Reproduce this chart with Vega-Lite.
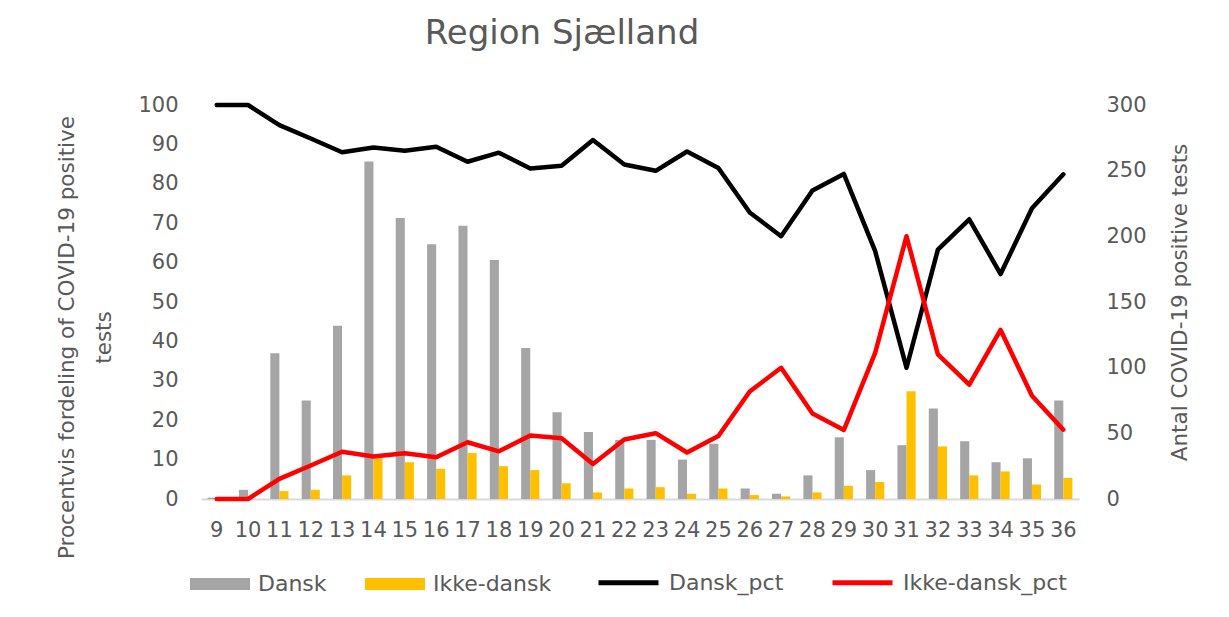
{
  "$schema": "https://vega.github.io/schema/vega-lite/v6.json",
  "width": 878,
  "height": 394,
  "autosize": {"type": "none"},
  "padding": {"left": 201, "top": 105, "right": 150, "bottom": 118},
  "background": "white",
  "title": {
    "text": "Region Sjælland",
    "font": "DejaVu Sans",
    "fontSize": 34,
    "fontWeight": "normal",
    "color": "#595959",
    "anchor": "middle",
    "frame": "group",
    "baseline": "alphabetic",
    "dx": -78,
    "offset": 16
  },
  "config": {
    "view": {"stroke": null},
    "axis": {
      "labelFont": "DejaVu Sans",
      "labelFontSize": 21,
      "labelColor": "#595959",
      "titleFont": "DejaVu Sans",
      "titleFontSize": 21.5,
      "titleFontWeight": "normal",
      "titleColor": "#595959",
      "grid": false,
      "ticks": false
    },
    "legend": {
      "labelFont": "DejaVu Sans",
      "labelFontSize": 22,
      "labelColor": "#595959",
      "labelLimit": 300
    }
  },
  "datasets": {
    "bars": [
      {"week": 9, "serie": "Dansk", "antal": 1}, {"week": 9, "serie": "Ikke-dansk", "antal": 0},
      {"week": 10, "serie": "Dansk", "antal": 7}, {"week": 10, "serie": "Ikke-dansk", "antal": 0},
      {"week": 11, "serie": "Dansk", "antal": 111}, {"week": 11, "serie": "Ikke-dansk", "antal": 6},
      {"week": 12, "serie": "Dansk", "antal": 75}, {"week": 12, "serie": "Ikke-dansk", "antal": 7},
      {"week": 13, "serie": "Dansk", "antal": 132}, {"week": 13, "serie": "Ikke-dansk", "antal": 18},
      {"week": 14, "serie": "Dansk", "antal": 257}, {"week": 14, "serie": "Ikke-dansk", "antal": 31},
      {"week": 15, "serie": "Dansk", "antal": 214}, {"week": 15, "serie": "Ikke-dansk", "antal": 28},
      {"week": 16, "serie": "Dansk", "antal": 194}, {"week": 16, "serie": "Ikke-dansk", "antal": 23},
      {"week": 17, "serie": "Dansk", "antal": 208}, {"week": 17, "serie": "Ikke-dansk", "antal": 35},
      {"week": 18, "serie": "Dansk", "antal": 182}, {"week": 18, "serie": "Ikke-dansk", "antal": 25},
      {"week": 19, "serie": "Dansk", "antal": 115}, {"week": 19, "serie": "Ikke-dansk", "antal": 22},
      {"week": 20, "serie": "Dansk", "antal": 66}, {"week": 20, "serie": "Ikke-dansk", "antal": 12},
      {"week": 21, "serie": "Dansk", "antal": 51}, {"week": 21, "serie": "Ikke-dansk", "antal": 5},
      {"week": 22, "serie": "Dansk", "antal": 45}, {"week": 22, "serie": "Ikke-dansk", "antal": 8},
      {"week": 23, "serie": "Dansk", "antal": 45}, {"week": 23, "serie": "Ikke-dansk", "antal": 9},
      {"week": 24, "serie": "Dansk", "antal": 30}, {"week": 24, "serie": "Ikke-dansk", "antal": 4},
      {"week": 25, "serie": "Dansk", "antal": 42}, {"week": 25, "serie": "Ikke-dansk", "antal": 8},
      {"week": 26, "serie": "Dansk", "antal": 8}, {"week": 26, "serie": "Ikke-dansk", "antal": 3},
      {"week": 27, "serie": "Dansk", "antal": 4}, {"week": 27, "serie": "Ikke-dansk", "antal": 2},
      {"week": 28, "serie": "Dansk", "antal": 18}, {"week": 28, "serie": "Ikke-dansk", "antal": 5},
      {"week": 29, "serie": "Dansk", "antal": 47}, {"week": 29, "serie": "Ikke-dansk", "antal": 10},
      {"week": 30, "serie": "Dansk", "antal": 22}, {"week": 30, "serie": "Ikke-dansk", "antal": 13},
      {"week": 31, "serie": "Dansk", "antal": 41}, {"week": 31, "serie": "Ikke-dansk", "antal": 82},
      {"week": 32, "serie": "Dansk", "antal": 69}, {"week": 32, "serie": "Ikke-dansk", "antal": 40},
      {"week": 33, "serie": "Dansk", "antal": 44}, {"week": 33, "serie": "Ikke-dansk", "antal": 18},
      {"week": 34, "serie": "Dansk", "antal": 28}, {"week": 34, "serie": "Ikke-dansk", "antal": 21},
      {"week": 35, "serie": "Dansk", "antal": 31}, {"week": 35, "serie": "Ikke-dansk", "antal": 11},
      {"week": 36, "serie": "Dansk", "antal": 75}, {"week": 36, "serie": "Ikke-dansk", "antal": 16}
    ],
    "pcts": [
      {"week": 9, "serie": "Dansk_pct", "pct": 100}, {"week": 9, "serie": "Ikke-dansk_pct", "pct": 0},
      {"week": 10, "serie": "Dansk_pct", "pct": 100}, {"week": 10, "serie": "Ikke-dansk_pct", "pct": 0},
      {"week": 11, "serie": "Dansk_pct", "pct": 94.9}, {"week": 11, "serie": "Ikke-dansk_pct", "pct": 5.1},
      {"week": 12, "serie": "Dansk_pct", "pct": 91.5}, {"week": 12, "serie": "Ikke-dansk_pct", "pct": 8.5},
      {"week": 13, "serie": "Dansk_pct", "pct": 88.0}, {"week": 13, "serie": "Ikke-dansk_pct", "pct": 12.0},
      {"week": 14, "serie": "Dansk_pct", "pct": 89.2}, {"week": 14, "serie": "Ikke-dansk_pct", "pct": 10.8},
      {"week": 15, "serie": "Dansk_pct", "pct": 88.4}, {"week": 15, "serie": "Ikke-dansk_pct", "pct": 11.6},
      {"week": 16, "serie": "Dansk_pct", "pct": 89.4}, {"week": 16, "serie": "Ikke-dansk_pct", "pct": 10.6},
      {"week": 17, "serie": "Dansk_pct", "pct": 85.6}, {"week": 17, "serie": "Ikke-dansk_pct", "pct": 14.4},
      {"week": 18, "serie": "Dansk_pct", "pct": 87.9}, {"week": 18, "serie": "Ikke-dansk_pct", "pct": 12.1},
      {"week": 19, "serie": "Dansk_pct", "pct": 83.9}, {"week": 19, "serie": "Ikke-dansk_pct", "pct": 16.1},
      {"week": 20, "serie": "Dansk_pct", "pct": 84.6}, {"week": 20, "serie": "Ikke-dansk_pct", "pct": 15.4},
      {"week": 21, "serie": "Dansk_pct", "pct": 91.1}, {"week": 21, "serie": "Ikke-dansk_pct", "pct": 8.9},
      {"week": 22, "serie": "Dansk_pct", "pct": 84.9}, {"week": 22, "serie": "Ikke-dansk_pct", "pct": 15.1},
      {"week": 23, "serie": "Dansk_pct", "pct": 83.3}, {"week": 23, "serie": "Ikke-dansk_pct", "pct": 16.7},
      {"week": 24, "serie": "Dansk_pct", "pct": 88.2}, {"week": 24, "serie": "Ikke-dansk_pct", "pct": 11.8},
      {"week": 25, "serie": "Dansk_pct", "pct": 84.0}, {"week": 25, "serie": "Ikke-dansk_pct", "pct": 16.0},
      {"week": 26, "serie": "Dansk_pct", "pct": 72.7}, {"week": 26, "serie": "Ikke-dansk_pct", "pct": 27.3},
      {"week": 27, "serie": "Dansk_pct", "pct": 66.7}, {"week": 27, "serie": "Ikke-dansk_pct", "pct": 33.3},
      {"week": 28, "serie": "Dansk_pct", "pct": 78.3}, {"week": 28, "serie": "Ikke-dansk_pct", "pct": 21.7},
      {"week": 29, "serie": "Dansk_pct", "pct": 82.5}, {"week": 29, "serie": "Ikke-dansk_pct", "pct": 17.5},
      {"week": 30, "serie": "Dansk_pct", "pct": 62.9}, {"week": 30, "serie": "Ikke-dansk_pct", "pct": 37.1},
      {"week": 31, "serie": "Dansk_pct", "pct": 33.3}, {"week": 31, "serie": "Ikke-dansk_pct", "pct": 66.7},
      {"week": 32, "serie": "Dansk_pct", "pct": 63.3}, {"week": 32, "serie": "Ikke-dansk_pct", "pct": 36.7},
      {"week": 33, "serie": "Dansk_pct", "pct": 71.0}, {"week": 33, "serie": "Ikke-dansk_pct", "pct": 29.0},
      {"week": 34, "serie": "Dansk_pct", "pct": 57.1}, {"week": 34, "serie": "Ikke-dansk_pct", "pct": 42.9},
      {"week": 35, "serie": "Dansk_pct", "pct": 73.8}, {"week": 35, "serie": "Ikke-dansk_pct", "pct": 26.2},
      {"week": 36, "serie": "Dansk_pct", "pct": 82.4}, {"week": 36, "serie": "Ikke-dansk_pct", "pct": 17.6}
    ]
  },
  "layer": [
    {
      "data": {"name": "bars"},
      "mark": {"type": "bar"},
      "encoding": {
        "x": {
          "field": "week",
          "type": "ordinal",
          "scale": {"paddingInner": 0.42, "paddingOuter": 0.21},
          "axis": {
            "title": null,
            "labelAngle": 0,
            "labelPadding": 20,
            "labelOverlap": false,
            "domainColor": "#d9d9d9",
            "domainWidth": 2
          }
        },
        "xOffset": {"field": "serie", "sort": ["Dansk", "Ikke-dansk"]},
        "y": {
          "field": "antal",
          "type": "quantitative",
          "scale": {"domain": [0, 300]},
          "axis": {
            "orient": "right",
            "values": [0, 50, 100, 150, 200, 250, 300],
            "domain": false,
            "labelPadding": 27,
            "title": "Antal COVID-19 positive tests",
            "titleAngle": -90,
            "titleX": 107,
            "titleY": 197,
            "titleAlign": "center",
            "titleBaseline": "alphabetic"
          }
        },
        "color": {
          "field": "serie",
          "type": "nominal",
          "scale": {"domain": ["Dansk", "Ikke-dansk"], "range": ["#a5a5a5", "#ffc000"]},
          "legend": {
            "orient": "none",
            "direction": "horizontal",
            "legendX": -11,
            "legendY": 449,
            "title": null,
            "padding": 0,
            "symbolType": "M-1,-0.2H1V0.2H-1Z",
            "symbolSize": 3600,
            "symbolStrokeWidth": 0,
            "labelOffset": 8,
            "columnPadding": 38
          }
        }
      }
    },
    {
      "data": {"name": "pcts"},
      "mark": {"type": "line", "strokeWidth": 4.5, "strokeJoin": "round", "strokeCap": "round"},
      "encoding": {
        "x": {"field": "week", "type": "ordinal"},
        "y": {
          "field": "pct",
          "type": "quantitative",
          "scale": {"domain": [0, 100]},
          "axis": {
            "orient": "left",
            "values": [0, 10, 20, 30, 40, 50, 60, 70, 80, 90, 100],
            "domain": false,
            "labelPadding": 23,
            "title": ["Procentvis fordeling of COVID-19 positive", "tests"],
            "titleAngle": -90,
            "titleX": -128,
            "titleY": 232,
            "titleAlign": "center",
            "titleBaseline": "alphabetic",
            "titleLineHeight": 37
          }
        },
        "color": {
          "field": "serie",
          "type": "nominal",
          "sort": ["Dansk_pct", "Ikke-dansk_pct"],
          "scale": {"domain": ["Dansk_pct", "Ikke-dansk_pct"], "range": ["#000000", "#ff0000"]},
          "legend": {
            "orient": "none",
            "direction": "horizontal",
            "legendX": 395,
            "legendY": 445,
            "title": null,
            "padding": 0,
            "symbolType": "stroke",
            "symbolSize": 3600,
            "symbolStrokeWidth": 5,
            "labelOffset": 8,
            "columnPadding": 38
          }
        }
      }
    }
  ],
  "resolve": {"scale": {"y": "independent", "color": "independent"}}
}
